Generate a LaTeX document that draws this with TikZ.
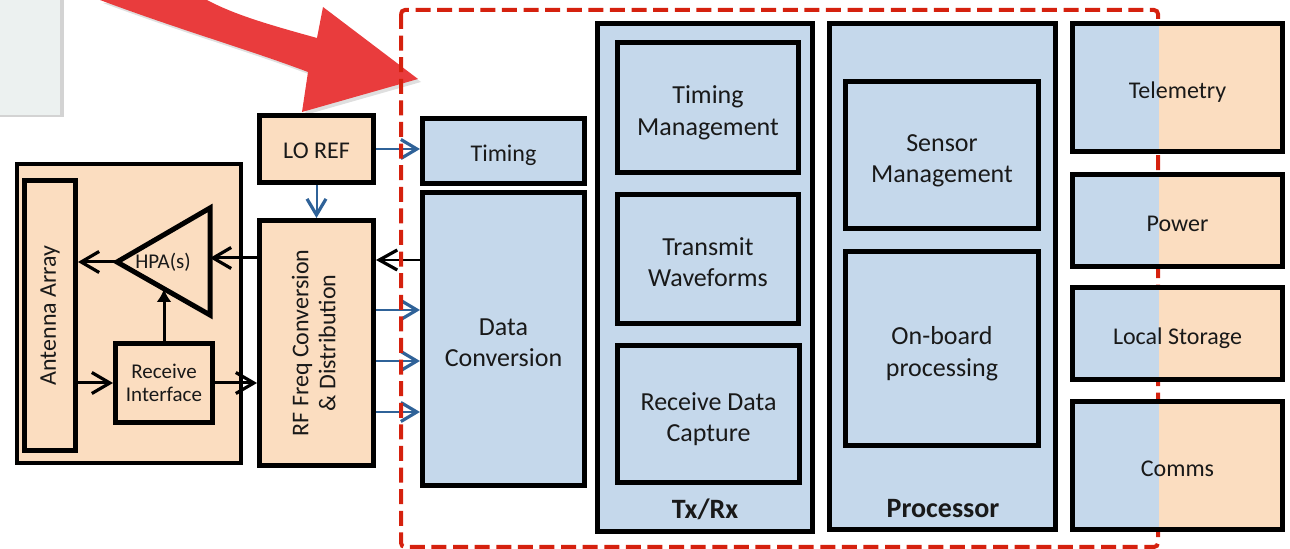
\documentclass[tikz,border=0pt]{standalone}
\usepackage{fontspec}
\setmainfont{Carlito}
\usepackage{tikz}
\usetikzlibrary{calc,positioning,arrows.meta,shapes.geometric,shadows}

\definecolor{peach}{RGB}{251,221,192}
\definecolor{paleblue}{RGB}{197,216,235}
\definecolor{linkblue}{RGB}{47,98,152}
\definecolor{dashred}{RGB}{213,33,14}
\definecolor{bigred}{RGB}{233,60,61}
\definecolor{paper}{RGB}{236,241,240}
\definecolor{ink}{RGB}{25,25,25}

\newcommand{\bigtxt}{\fontsize{13}{15.8}\selectfont}
\newcommand{\midtxt}{\fontsize{12}{13.4}\selectfont}
\newcommand{\smltxt}{\fontsize{10.5}{11.7}\selectfont}
% box text, set a little low as in the slide
\newcommand{\boxtext}[2][2.75pt]{\raisebox{-#1}[\height][\depth]{%
    \begin{tabular}{@{}c@{}}#2\end{tabular}}}

\begin{document}
\begin{tikzpicture}
[x=0.5pt,y=-0.5pt]

    \tikzstyle{every node}=[text=ink,align=center,inner sep=0pt]
    \tikzstyle{rfbox}=[draw,line width=2.5pt,fill=peach,font=\midtxt]
    \tikzstyle{dspbox}=[draw,line width=2.5pt,fill=paleblue,font=\bigtxt]
    \tikzstyle{splitbox}=[draw,line width=2.5pt,fill=peach,font=\midtxt,
        minimum width=105pt,
        path picture={\fill[paleblue] (path picture bounding box.south west)
            rectangle ([xshift=-9.25pt]path picture bounding box.north);}]
    \tikzstyle{blkarrow}=[line width=1.5pt,
        -{Straight Barb[length=9pt,width=10.5pt,line width=1.6pt]}]
    \tikzstyle{thinblk}=[line width=1pt,
        -{Straight Barb[length=9pt,width=10pt,line width=1.6pt]}]
    \tikzstyle{bluearrow}=[linkblue,line width=1pt,
        -{Straight Barb[length=8pt,width=9.5pt,line width=1.6pt]}]

    \useasboundingbox (0,0) rectangle (1290,549);

    % the sheet in the corner and the big pointer
    \fill[paper,drop shadow={opacity=0.35,shadow xshift=2pt,shadow yshift=-1pt}]
        (-10,-10) rectangle (60,115);
    \fill[bigred,drop shadow={opacity=0.25,shadow xshift=1.5pt,shadow yshift=-1.5pt}]
        (100,0) .. controls (180,30) and (250,50) .. (308,72) -- (302,112)
        -- (418,79) -- (323,7) -- (317,38) .. controls (270,25) and (235,15) .. (207,0)
        -- cycle;

    % RF front end
    \node[rfbox,line width=2pt,minimum width=112pt,minimum height=149.5pt]
        (frontend) at (129,313.5) {};
    \node[rfbox,minimum width=25.5pt,minimum height=135pt]
        (ant) at (50,315.5) {\rotatebox{90}{Antenna Array}};
    \draw[line width=2.5pt,fill=peach] (210,208) -- (117,262) coordinate (hpatip)
        -- (210,315) -- cycle;
    \coordinate (hpain) at (210,258);
    \coordinate (hpabot) at (164,289);
    \node[font=\smltxt] (hpa) at (163,262) {HPA(s)};
    \node[rfbox,font=\smltxt,minimum width=48.5pt,minimum height=39.5pt]
        (rxif) at (164,383) {Receive\\Interface};

    \node[rfbox,minimum width=57pt,minimum height=33.5pt]
        (loref) at (316.5,149) {\boxtext[2pt]{LO REF}};
    \node[rfbox,minimum width=57pt,minimum height=122.5pt] (rffreq) at (316.5,343)
        {\rotatebox{90}{\begin{tabular}{@{}c@{}}RF Freq Conversion\\
         \& Distribution\end{tabular}}};

    \node[dspbox,font=\midtxt,minimum width=81pt,minimum height=32.5pt]
        (timing) at (503.5,151) {\boxtext{Timing}};
    \node[dspbox,minimum width=81pt,minimum height=146.5pt]
        (dataconv) at (503.5,339) {\boxtext{Data\\Conversion}};

    % links
    \draw[blkarrow] (hpatip) -- (ant.east |- hpatip);
    \draw[blkarrow] (rffreq.west |- hpain) -- (hpain);
    \draw[line width=1.5pt,-{Latex[length=6.5pt,width=7.5pt]}] (rxif.north) -- (hpabot);
    \draw[blkarrow] (ant.east |- rxif.west) -- (rxif.west);
    \draw[blkarrow] (rxif.east) -- (rffreq.west |- rxif.east);
    \draw[bluearrow] (loref.east) -- (timing.west |- loref.east);
    \draw[bluearrow] (loref.south) -- (rffreq.north);
    \draw[thinblk] (dataconv.west |- 0,260) -- (rffreq.east |- 0,260);
    \foreach \yy in {310,361,412}
        \draw[bluearrow] (rffreq.east |- 0,\yy) -- (dataconv.west |- 0,\yy);

    % digital section
    \draw[dashred,line width=2pt,dash pattern=on 7.5pt off 3.3pt,rounded corners=2pt]
        (401,10) rectangle (1158,547);

    \node[dspbox,minimum width=107.5pt,minimum height=254pt] (txrx) at (705,277.5) {};
    \node[dspbox,minimum width=90.5pt,minimum height=65pt]
        (timmgmt) at (708,107.5) {\boxtext{Timing\\Management}};
    \node[dspbox,minimum width=90.5pt,minimum height=64.5pt]
        (txwave) at (708,259) {\boxtext{Transmit\\Waveforms}};
    \node[dspbox,minimum width=91pt,minimum height=68.5pt]
        (rxcap) at (708.5,414) {\boxtext{Receive Data\\Capture}};
    \node[font=\fontsize{14}{16}\selectfont\bfseries] (txrxlbl) at (705,509) {Tx/Rx};

    \node[dspbox,minimum width=113pt,minimum height=253pt] (proc) at (942.5,276.5) {};
    \node[dspbox,minimum width=96.5pt,minimum height=73.5pt]
        (sensmgmt) at (942,155) {\boxtext{Sensor\\Management}};
    \node[dspbox,minimum width=96.5pt,minimum height=97pt]
        (onboard) at (942,348.5) {\boxtext{On-board\\processing}};
    \node[font=\fontsize{14}{16}\selectfont\bfseries] (proclbl) at (943,509) {Processor};

    \node[splitbox,minimum height=64pt] (telem) at (1177.5,87.5) {\boxtext{Telemetry}};
    \node[splitbox,minimum height=46pt] (power) at (1177.5,220.5) {\boxtext{Power}};
    \node[splitbox,minimum height=46pt] (locstor) at (1177.5,333.5) {\boxtext{Local Storage}};
    \node[splitbox,minimum height=64pt] (comms) at (1177.5,465.5) {\boxtext{Comms}};

\end{tikzpicture}
\end{document}
